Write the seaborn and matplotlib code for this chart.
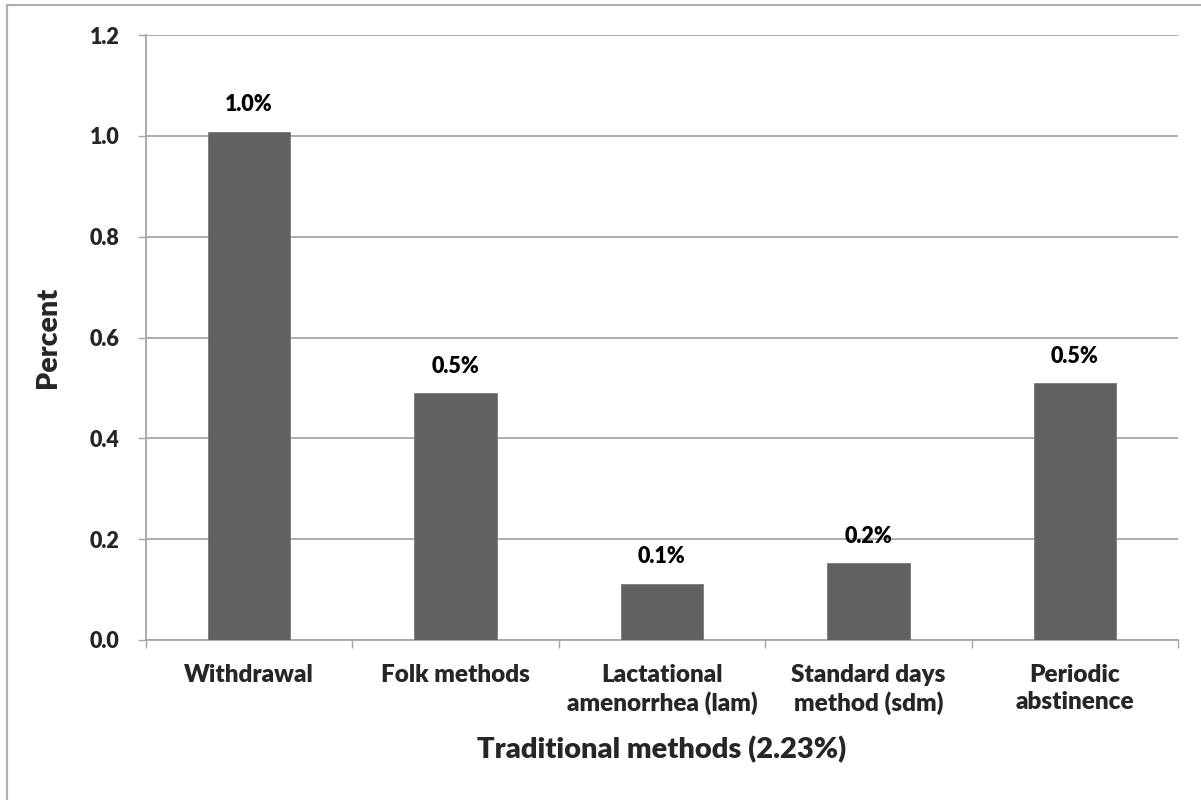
import matplotlib
matplotlib.use("Agg")
import matplotlib.pyplot as plt
from matplotlib.lines import Line2D
import seaborn as sns
import pandas as pd

# Survey shares for each traditional contraceptive method (percent)
methods = [
    "Withdrawal",
    "Folk methods",
    "Lactational\namenorrhea (lam)",
    "Standard days\nmethod (sdm)",
    "Periodic\nabstinence",
]
percent = [1.008, 0.489, 0.111, 0.152, 0.509]
y_ticks = [0.0, 0.2, 0.4, 0.6, 0.8, 1.0, 1.2]

sns.set_style("white")
plt.rcParams["font.family"] = ["Lato", "DejaVu Sans"]
plt.rcParams["font.weight"] = "heavy"
WEIGHT = "heavy"

df = pd.DataFrame({"method": methods, "percent": percent})

fig = plt.figure(figsize=(12.01, 8.0), dpi=100)
W, H = 1201, 800
ax = fig.add_axes([146 / W, (H - 640) / H, (1178 - 146) / W, (640 - 35) / H])

grid_col = "#A6A6A6"
bar_col = "#616161"

sns.barplot(data=df, x="method", y="percent", color=bar_col, width=0.4,
            saturation=1, edgecolor="#7a7a7a", linewidth=0.6, ax=ax, zorder=3)

ax.set_xlim(-0.5, len(methods) - 0.5)
ax.set_ylim(0, 1.2)
ax.set_yticks(y_ticks)
ax.set_yticklabels([f"{t:.1f}" for t in y_ticks])
ax.yaxis.grid(True, color=grid_col, linewidth=1.3, zorder=0)
ax.xaxis.grid(False)

for side in ("top", "right"):
    ax.spines[side].set_visible(False)
for side in ("left", "bottom"):
    ax.spines[side].set_color(grid_col)
    ax.spines[side].set_linewidth(1.3)

ax.tick_params(axis="y", which="major", length=6, width=1.0, color=grid_col,
               pad=13, labelsize=15.5, left=True)
ax.tick_params(axis="x", which="major", length=0, pad=17, labelsize=17.5)
ax.set_xticks([i - 0.5 for i in range(len(methods) + 1)], minor=True)
ax.tick_params(axis="x", which="minor", length=6, width=1.0, color=grid_col,
               bottom=True)
for lbl in ax.get_xticklabels():
    lbl.set_verticalalignment("top")
    lbl.set_linespacing(1.3)
    lbl.set_fontweight(WEIGHT)
for lbl in ax.get_yticklabels():
    lbl.set_fontweight(WEIGHT)

ax.set_xlabel("Traditional methods (2.23%)", fontsize=21, fontweight=WEIGHT,
              labelpad=15)
ax.set_ylabel("Percent", fontsize=20.5, fontweight=WEIGHT)
ax.yaxis.set_label_coords(-(146 - 61) / 1032, 0.5)

# Value labels above each bar
for i, v in enumerate(percent):
    ax.annotate(f"{v:.1f}%", xy=(i, v), xytext=(0, 12), textcoords="offset points",
                ha="center", va="bottom", fontsize=15.5, fontweight=WEIGHT,
                color="black")

# Chart-area border
border = "#B0B0B0"
fig.add_artist(Line2D([7 / W, 7 / W], [0, 1 - 5 / H], transform=fig.transFigure,
                      color=border, linewidth=1.6))
fig.add_artist(Line2D([7 / W, 1], [1 - 5 / H, 1 - 5 / H], transform=fig.transFigure,
                      color=border, linewidth=1.6))

fig.savefig("out.png", dpi=100, facecolor="white")
